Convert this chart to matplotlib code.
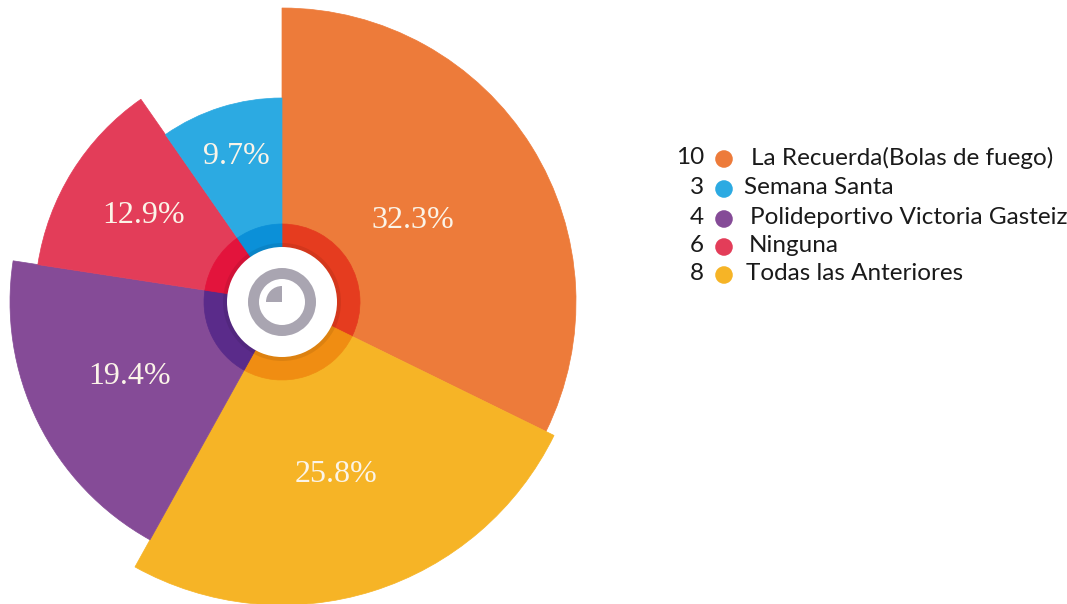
import numpy as np
import matplotlib
matplotlib.use("Agg")
import matplotlib.pyplot as plt

W, H = 1067, 604

# pie data (clockwise from 12 o'clock)
pie_values = [10, 8, 6, 4, 3]
pie_colors = ["#ED7B3A", "#F6B426", "#854B97", "#E33D59", "#2CAAE2"]
ring_colors = ["#E53C1F", "#F08D12", "#5A2B8A", "#E3143C", "#0B90D8"]

# legend (as printed on the original)
legend_counts = [10, 3, 4, 6, 8]
legend_labels = [
    "La Recuerda(Bolas de fuego)",
    "Semana Santa",
    "Polideportivo Victoria Gasteiz",
    "Ninguna",
    "Todas las Anteriores",
]
legend_colors = ["#ED7B3A", "#2CAAE2", "#854B97", "#E33D59", "#F6B426"]

# layout (pixels)
CX, CY = 282, 302
RMAX = 310
slice_radius = [294, 303, 272, 247, 204]
label_radius = [154, 181, 170, 163, 152]
HOLE, RING = 55, 78
GRAY = "#A9A5B1"
legend_y = [158, 188, 218, 246, 274]
legend_text_x = [751, 744, 750, 749, 746]

fig = plt.figure(figsize=(W / 100, H / 100), dpi=100)
fig.patch.set_facecolor("white")

ax = fig.add_axes([(CX - RMAX) / W, (H - CY - RMAX) / H, 2 * RMAX / W, 2 * RMAX / H],
                  projection="polar")
ax.set_theta_zero_location("N")
ax.set_theta_direction(-1)
ax.set_ylim(0, RMAX)
ax.axis("off")

vals = np.array(pie_values, dtype=float)
widths = vals / vals.sum() * 2 * np.pi
starts = np.concatenate([[0], np.cumsum(widths)[:-1]])

ax.bar(starts, slice_radius, width=widths, bottom=0, align="edge",
       color=pie_colors, edgecolor=pie_colors, linewidth=0.5)
ax.bar(starts, RING - HOLE, width=widths, bottom=HOLE, align="edge",
       color=ring_colors, edgecolor=ring_colors, linewidth=0.5)
# soft shadow, centre disc and clock-like icon
ax.bar(0, 5, width=2 * np.pi, bottom=HOLE - 1, color="black", alpha=0.08, edgecolor="none")
ax.bar(0, HOLE, width=2 * np.pi, bottom=0, color="white", edgecolor="none")
ax.bar(0, 11, width=2 * np.pi, bottom=23, color=GRAY, edgecolor="none")
ax.bar(1.5 * np.pi, 16, width=0.5 * np.pi, bottom=0, align="edge",
       color=GRAY, edgecolor="none")

for s, w, r, v in zip(starts, widths, label_radius, vals):
    ax.text(s + w / 2, r, f"{v / vals.sum() * 100:.1f}%", ha="center", va="center",
            fontsize=23, family="Liberation Serif", color="#FBF4E8")

# legend in pixel coordinates
lg = fig.add_axes([0, 0, 1, 1])
lg.set_xlim(0, W)
lg.set_ylim(H, 0)
lg.axis("off")
for n, lab, col, y, tx in zip(legend_counts, legend_labels, legend_colors,
                              legend_y, legend_text_x):
    lg.text(704, y, str(n), ha="right", va="center", fontsize=17.5,
            family="Lato", color="#1A1A1A")
    lg.scatter([724], [y + 1], s=160, color=col, edgecolors="none")
    lg.text(tx, y, lab, ha="left", va="center", fontsize=17.5,
            family="Lato", color="#1A1A1A")

fig.savefig("out.png", dpi=100)
